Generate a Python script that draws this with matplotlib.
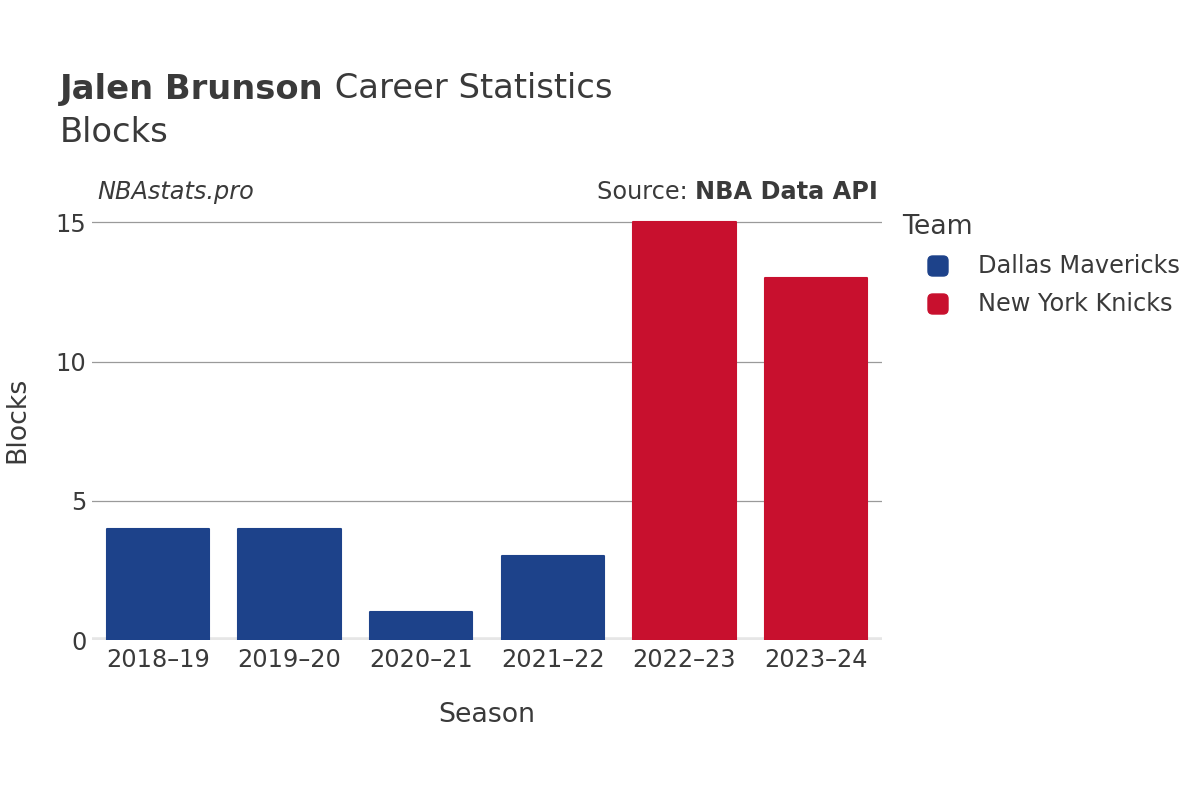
import matplotlib.pyplot as plt
from matplotlib.patches import FancyBboxPatch

seasons = ['2018–19', '2019–20', '2020–21', '2021–22', '2022–23', '2023–24']
blocks = [4, 4, 1, 3, 15, 13]
teams = ['Dallas Mavericks', 'Dallas Mavericks', 'Dallas Mavericks', 'Dallas Mavericks',
         'New York Knicks', 'New York Knicks']
team_colors = {'Dallas Mavericks': '#1D428A', 'New York Knicks': '#C8102E'}

txt = '#3a3a3a'
plt.rcParams['font.family'] = ['DejaVu Sans']

fig = plt.figure(figsize=(12, 8), dpi=100)
ax = fig.add_axes([92 / 1200, 0.2, 790 / 1200, 0.55])

x = range(len(seasons))
cols = [team_colors[t] for t in teams]
ax.bar(x, blocks, width=0.775, color=cols, edgecolor=cols, linewidth=1.5,
       joinstyle='round', zorder=3)

ax.set_xlim(-0.5, len(seasons) - 0.5)
ax.set_ylim(0, 15.8)
ax.set_yticks([0, 5, 10, 15])
ax.set_xticks(list(x))
ax.set_xticklabels(seasons)
ax.tick_params(axis='both', length=0, labelsize=17.3, colors=txt)
ax.tick_params(axis='y', pad=4)
ax.tick_params(axis='x', pad=6)
for s in ax.spines.values():
    s.set_visible(False)
ax.grid(axis='y', color='#9a9a9a', linewidth=0.9, zorder=0)
ax.axhline(0, color='#e6e6e6', linewidth=4, zorder=2)

ax.set_xlabel('Season', fontsize=19.3, color=txt, labelpad=21)
fig.text(17 / 1200, 1 - 420 / 800, 'Blocks', rotation=90, fontsize=19.3, color=txt,
         ha='center', va='center')

# titles
t1 = fig.text(60 / 1200, 1 - 89 / 800, 'Jalen Brunson', fontsize=24.3, fontweight='bold',
              color=txt, va='center')
fig.canvas.draw()
bb = t1.get_window_extent()
fig.text(bb.x1 / 1200, 1 - 89 / 800, ' Career Statistics', fontsize=24.3, color=txt, va='center')
fig.text(60 / 1200, 1 - 133 / 800, 'Blocks', fontsize=24.3, color=txt, va='center')

fig.text(97 / 1200, 1 - 192 / 800, 'NBAstats.pro', fontsize=17.3, style='italic',
         color=txt, va='center')
s2 = fig.text(878 / 1200, 1 - 192 / 800, 'NBA Data API', fontsize=17.3, fontweight='bold',
              color=txt, va='center', ha='right')
fig.canvas.draw()
bb2 = s2.get_window_extent()
fig.text(bb2.x0 / 1200, 1 - 192 / 800, 'Source: ', fontsize=17.3, color=txt,
         va='center', ha='right')

# legend
fig.text(902 / 1200, 1 - 227 / 800, 'Team', fontsize=19.3, color=txt, va='center')
for i, (name, c) in enumerate(team_colors.items()):
    yc = 266 + 38 * i
    fig.add_artist(FancyBboxPatch(((928) / 1200, 1 - (yc + 10) / 800), 20 / 1200, 20 / 800,
                                  boxstyle='round,pad=0,rounding_size=0.004',
                                  mutation_aspect=1.5, transform=fig.transFigure,
                                  facecolor=c, edgecolor=c, linewidth=1))
    fig.text(978 / 1200, 1 - yc / 800, name, fontsize=17.3, color=txt, va='center')

fig.savefig('out.png', dpi=100)
